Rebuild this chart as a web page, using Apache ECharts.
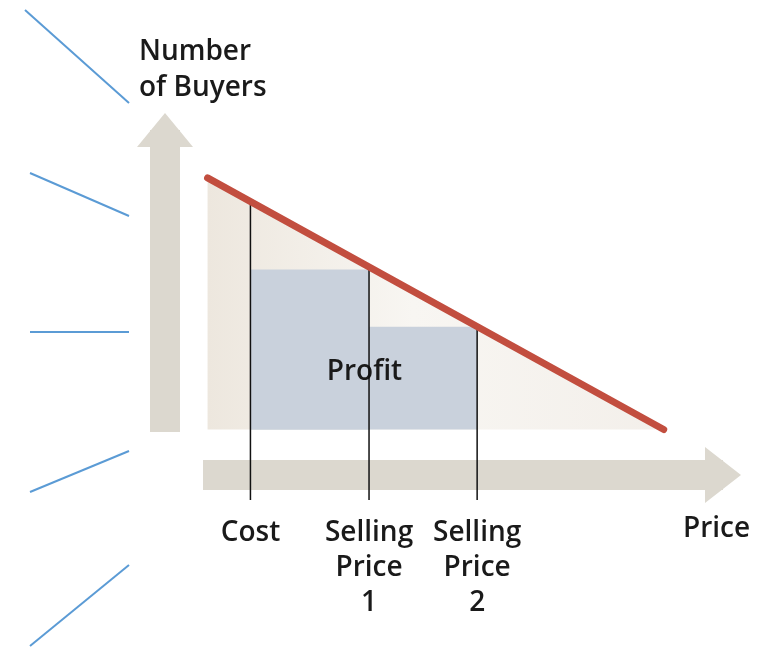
<!DOCTYPE html>
<html>
<head>
<meta charset="utf-8">
<script src="https://cdn.jsdelivr.net/npm/echarts@6/dist/echarts.min.js"></script>
<style>
  html, body { margin: 0; padding: 0; background: #fff; }
  #main { width: 761px; height: 648px; }
</style>
</head>
<body>
<div id="main"></div>
<script>
// demand line: price -> number of buyers
var demandLine = [[0, 100], [100, 0]];
// price points on the x axis
var priceLabels = ['Cost', 'Selling\nPrice\n1', 'Selling\nPrice\n2'];
var priceValues = [9.4, 35.4, 59.1];
var buyersAtPrice = [90.8, 63.6, 40.8];
var profitText = 'Profit';
var profitPos = [34.4, 23];

var font = 'Open Sans';
var chart = echarts.init(document.getElementById('main'));

var rectData = [
  [priceValues[0], priceValues[2], buyersAtPrice[2]],
  [priceValues[0], priceValues[1], buyersAtPrice[1]]
];
var lineData = priceValues.map(function (p, i) { return [p, buyersAtPrice[i]]; });

var option = {
  animation: false,
  title: [
    {
      text: 'Number\nof Buyers', left: 139, top: 34, padding: 0,
      textStyle: { fontFamily: font, fontSize: 28, lineHeight: 36, fontWeight: 600, color: '#1a1a1a' }
    },
    {
      text: 'Price', left: 683, top: 512, padding: 0,
      textStyle: { fontFamily: font, fontSize: 28, lineHeight: 34, fontWeight: 600, color: '#1a1a1a' }
    }
  ],
  grid: { left: 203, right: 38, top: 130, bottom: 216 },
  xAxis: {
    type: 'value', min: -1, max: 113, offset: 43,
    axisLine: {
      onZero: false, symbol: ['none', 'triangle'], symbolSize: [56, 36],
      lineStyle: { color: '#dcd8cf', width: 30, cap: 'butt' }
    },
    axisTick: { show: false }, axisLabel: { show: false }, splitLine: { show: false }
  },
  yAxis: {
    type: 'value', min: -1, max: 119, offset: 38,
    axisLine: {
      onZero: false, symbol: ['none', 'triangle'], symbolSize: [56, 34],
      lineStyle: { color: '#dcd8cf', width: 30, cap: 'butt' }
    },
    axisTick: { show: false }, axisLabel: { show: false }, splitLine: { show: false }
  },
  graphic: [
    { type: 'line', shape: { x1: 25, y1: 10, x2: 129, y2: 103 }, style: { stroke: '#5b9bd5', lineWidth: 2 } },
    { type: 'line', shape: { x1: 30, y1: 173, x2: 129, y2: 216 }, style: { stroke: '#5b9bd5', lineWidth: 2 } },
    { type: 'line', shape: { x1: 30, y1: 332, x2: 129, y2: 332 }, style: { stroke: '#5b9bd5', lineWidth: 2 } },
    { type: 'line', shape: { x1: 30, y1: 492, x2: 129, y2: 451 }, style: { stroke: '#5b9bd5', lineWidth: 2 } },
    { type: 'line', shape: { x1: 30, y1: 646, x2: 129, y2: 565 }, style: { stroke: '#5b9bd5', lineWidth: 2 } }
  ],
  series: [
    {
      // shaded triangle under the demand line
      type: 'line', z: 1, data: demandLine, symbol: 'none',
      lineStyle: { width: 0 },
      areaStyle: {
        opacity: 1,
        color: new echarts.graphic.LinearGradient(0, 0, 1, 0, [
          { offset: 0, color: '#ede7de' },
          { offset: 0.45, color: '#f8f6f2' },
          { offset: 1, color: '#f3efea' }
        ])
      }
    },
    {
      // profit rectangles
      type: 'custom', z: 2, data: rectData,
      renderItem: function (params, api) {
        var p0 = api.coord([api.value(0), 0]);
        var p1 = api.coord([api.value(1), api.value(2)]);
        return {
          type: 'rect',
          shape: { x: p0[0], y: p1[1], width: p1[0] - p0[0], height: p0[1] - p1[1] },
          style: { fill: '#c9d1dc' }
        };
      }
    },
    {
      type: 'scatter', z: 3, data: [profitPos], symbolSize: 0, clip: false,
      itemStyle: { opacity: 1 },
      label: {
        show: true, position: 'inside', formatter: profitText,
        fontFamily: font, fontSize: 28, fontWeight: 600, color: '#1a1a1a'
      }
    },
    {
      // vertical price lines with labels
      type: 'custom', z: 4, data: lineData, clip: false,
      renderItem: function (params, api) {
        var top = api.coord([api.value(0), api.value(1)]);
        var bottom = api.coord([api.value(0), -28]);
        return {
          type: 'group',
          children: [
            {
              type: 'line',
              shape: { x1: top[0], y1: top[1], x2: bottom[0], y2: bottom[1] },
              style: { stroke: '#111', lineWidth: 1.5 }
            },
            {
              type: 'text',
              x: bottom[0], y: bottom[1] + 16,
              style: {
                text: priceLabels[params.dataIndex],
                align: 'center', verticalAlign: 'top',
                fontFamily: font, fontSize: 28, lineHeight: 35, fontWeight: 600, fill: '#1a1a1a'
              }
            }
          ]
        };
      }
    },
    {
      // demand line
      type: 'line', z: 5, data: demandLine, symbol: 'none',
      lineStyle: { color: '#c24e3f', width: 7, cap: 'round' }
    }
  ]
};
chart.setOption(option);
</script>
</body>
</html>
